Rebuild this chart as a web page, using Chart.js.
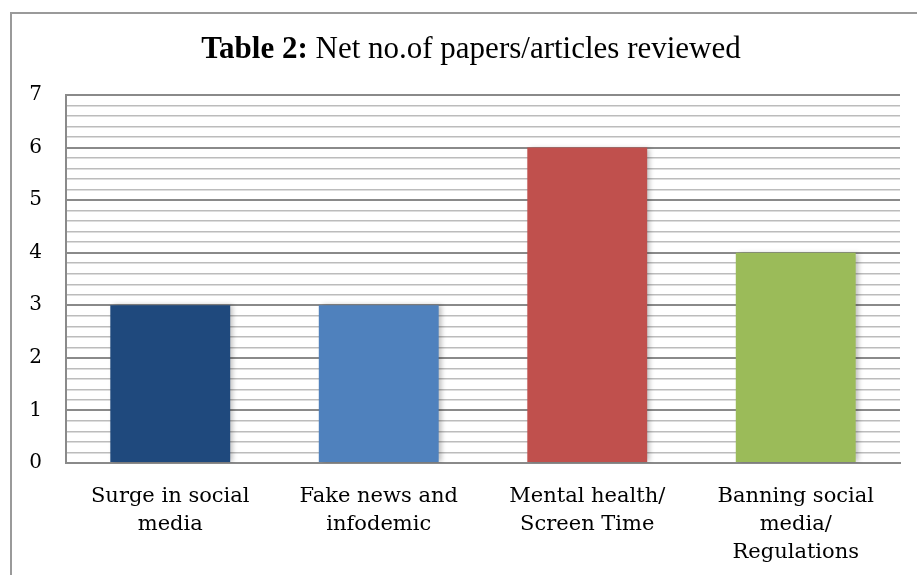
<!DOCTYPE html>
<html>
<head>
<meta charset="utf-8">
<script src="https://cdn.jsdelivr.net/npm/chart.js@4/dist/chart.umd.min.js"></script>
<style>
html,body{margin:0;padding:0;background:#fff;}
#wrap{position:relative;width:917px;height:575px;}
</style>
</head>
<body>
<div id="wrap"><canvas id="c" width="917" height="575"></canvas></div>
<script>
const categories = [
  ["Surge in social", "media"],
  ["Fake news and", "infodemic"],
  ["Mental health/", "Screen Time"],
  ["Banning social", "media/", "Regulations"]
];
const values = [3, 3, 6, 4];
const barColors = ["#1F497D", "#4F81BD", "#C0504D", "#9BBB59"];
const titleBold = "Table 2:";
const titleRest = " Net no.of papers/articles reviewed";
const yMin = 0, yMax = 7, yStep = 0.2;

const isMajor = v => Math.abs(v - Math.round(v)) < 1e-6;

const framePlugin = {
  id: 'frame',
  beforeDraw(chart) {
    const ctx = chart.ctx;
    ctx.save();
    ctx.fillStyle = '#fff';
    ctx.fillRect(0, 0, chart.width, chart.height);
    ctx.strokeStyle = '#9a9a9a';
    ctx.lineWidth = 2;
    ctx.beginPath();
    ctx.moveTo(11, 575);
    ctx.lineTo(11, 13);
    ctx.lineTo(917, 13);
    ctx.stroke();
    ctx.restore();
  },
  afterDraw(chart) {
    const ctx = chart.ctx;
    ctx.save();
    ctx.fillStyle = '#000';
    ctx.textBaseline = 'alphabetic';
    const fb = 'bold 31px "Liberation Serif"';
    const fr = '31px "Liberation Serif"';
    ctx.font = fb; const wb = ctx.measureText(titleBold).width;
    ctx.font = fr; const wr = ctx.measureText(titleRest).width;
    const cx = 471;
    let x = cx - (wb + wr) / 2;
    const y = 58;
    ctx.font = fb; ctx.fillText(titleBold, x, y);
    ctx.font = fr; ctx.fillText(titleRest, x + wb, y);
    ctx.restore();
  }
};

const shadowPlugin = {
  id: 'barShadow',
  beforeDatasetDraw(chart) {
    const ctx = chart.ctx;
    ctx.save();
    ctx.shadowColor = 'rgba(0,0,0,0.25)';
    ctx.shadowBlur = 5;
    ctx.shadowOffsetX = 3;
    ctx.shadowOffsetY = 0;
  },
  afterDatasetDraw(chart) {
    chart.ctx.restore();
  }
};

new Chart(document.getElementById('c'), {
  type: 'bar',
  data: {
    labels: categories,
    datasets: [{
      data: values,
      backgroundColor: barColors,
      borderWidth: 0,
      categoryPercentage: 1.0,
      barPercentage: 0.575
    }]
  },
  options: {
    responsive: false,
    animation: false,
    devicePixelRatio: 1,
    layout: { padding: { top: 95, right: 17, left: 0, bottom: 0 } },
    plugins: { legend: { display: false }, title: { display: false }, tooltip: { enabled: false } },
    scales: {
      x: {
        grid: { display: false, drawTicks: false },
        border: { display: true, color: '#8a8a8a', width: 2 },
        ticks: {
          color: '#000',
          font: { family: '"DejaVu Serif"', size: 21, lineHeight: '28px' },
          padding: 20,
          maxRotation: 0,
          autoSkip: false
        },
        afterFit(scale) { scale.height = 112; }
      },
      y: {
        min: yMin, max: yMax,
        grid: {
          drawTicks: false,
          color: c => isMajor(c.tick.value) ? '#8a8a8a' : '#bcbcbc',
          lineWidth: c => isMajor(c.tick.value) ? 2 : 1.5
        },
        border: { display: true, color: '#8a8a8a', width: 2 },
        ticks: {
          stepSize: yStep,
          autoSkip: false,
          color: '#000',
          padding: 24,
          font: { family: '"DejaVu Serif"', size: 20 },
          callback: v => isMajor(v) ? String(Math.round(v)) : ''
        },
        afterFit(scale) { scale.width = 66; }
      }
    }
  },
  plugins: [framePlugin, shadowPlugin]
});
</script>
</body>
</html>
